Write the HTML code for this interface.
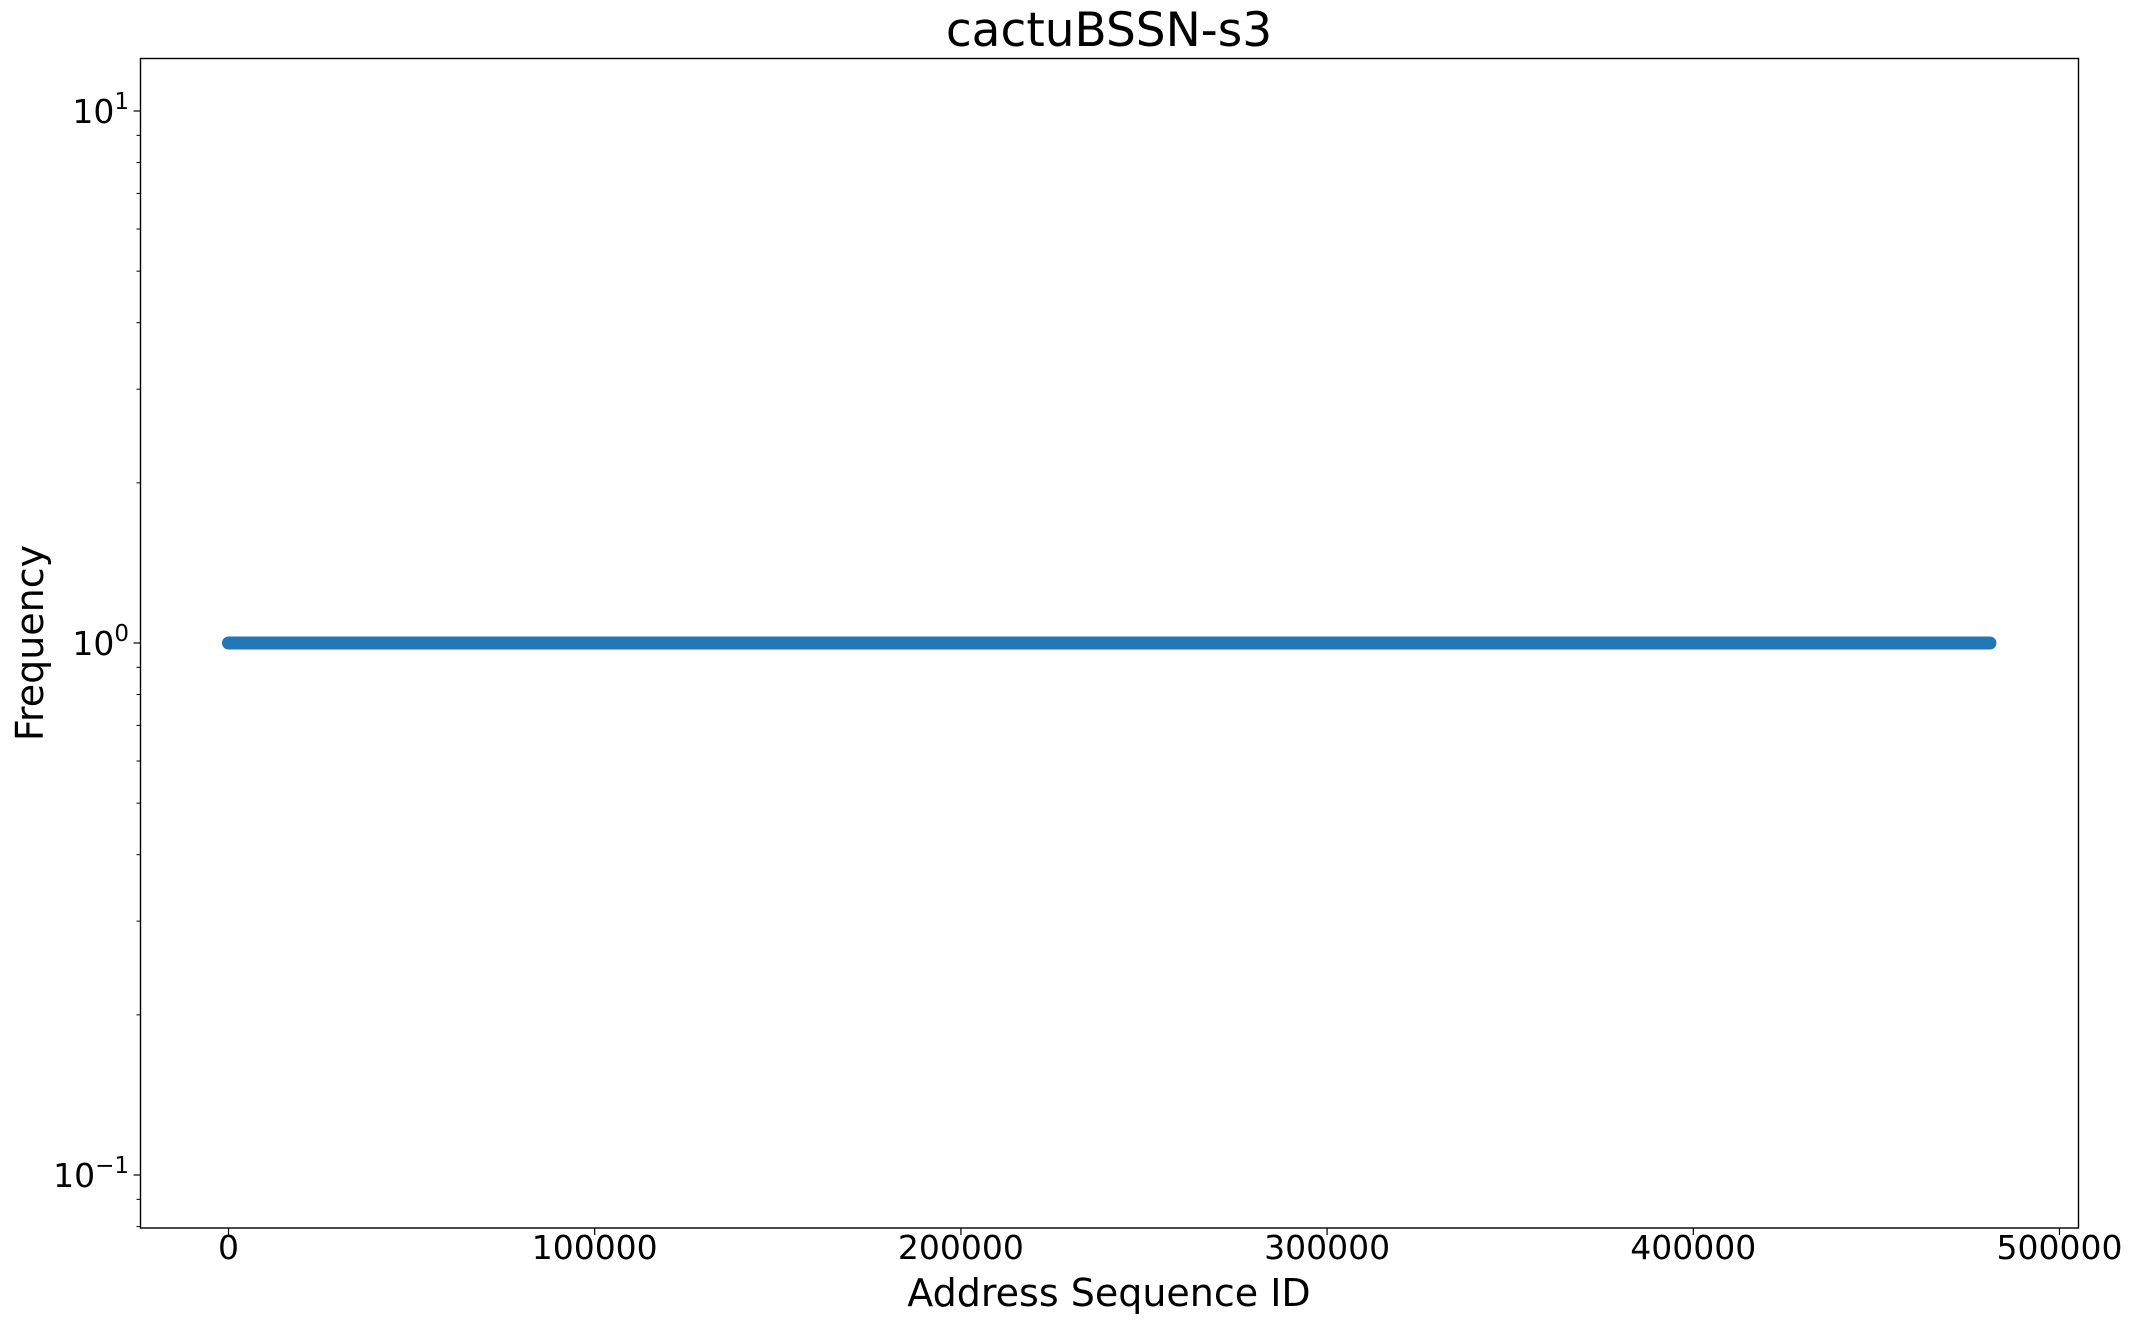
<!DOCTYPE html>
<html><head><meta charset="utf-8"><style>
html,body{margin:0;padding:0;background:#fff;}
svg{display:block;font-family:"DejaVu Sans","Liberation Sans",sans-serif;}
</style></head><body>
<svg id="chart" width="2130" height="1324" viewBox="0 0 2130 1324">
<rect x="0" y="0" width="2130" height="1324" fill="#fff"/>
<text x="1109" y="46" font-size="47" text-anchor="middle" fill="#000">cactuBSSN-s3</text>
<g id="series"></g>
<g id="axes"></g>
<rect x="140.5" y="58.5" width="1938" height="1169.5" fill="none" stroke="#000" stroke-width="1.4"/>
<text x="1109" y="1306" font-size="38" text-anchor="middle" fill="#000">Address Sequence ID</text>
<text x="0" y="0" font-size="38" text-anchor="middle" fill="#000" transform="translate(43,643) rotate(-90)">Frequency</text>
</svg>
<script>
const xTicks = [0, 100000, 200000, 300000, 400000, 500000];
const xTickLabels = ["0", "100000", "200000", "300000", "400000", "500000"];
const yTickExps = [-1, 0, 1];
const yTickLabels = ["−1", "0", "1"];
const seriesX = [0, 481000];
const seriesY = [1, 1];

const NS = "http://www.w3.org/2000/svg";
const X0 = 228.5, XS = 366.2 / 100000;
const Y0 = 643, YS = 532;
function xs(v){ return X0 + v * XS; }
function ys(v){ return Y0 - Math.log10(v) * YS; }
function mk(tag, attrs, parent){
  const e = document.createElementNS(NS, tag);
  for (const k in attrs) e.setAttribute(k, attrs[k]);
  parent.appendChild(e);
  return e;
}
const axes = document.getElementById('axes');
const series = document.getElementById('series');

const pts = seriesX.map((x,i)=>xs(x)+','+ys(seriesY[i])).join(' ');
const line = mk('polyline', {points: pts, fill:'none', stroke:'#1f77b4', 'stroke-width':13, 'stroke-linecap':'round'}, series);



xTicks.forEach((t,i)=>{
  const x = xs(t);
  const tk = mk('line', {x1:x, x2:x, y1:1228, y2:1235, stroke:'#000', 'stroke-width':1.2}, axes);
  
  
  const lb = mk('text', {x:x, y:1259, 'font-size':33, 'text-anchor':'middle', fill:'#000'}, axes);
  lb.textContent = xTickLabels[i];
  
  
});

yTickExps.forEach((e,i)=>{
  const y = ys(Math.pow(10,e));
  const tk = mk('line', {x1:133.5, x2:140.5, y1:y, y2:y, stroke:'#000', 'stroke-width':1.2}, axes);
  
  
  const lb = mk('text', {x:129, y:y+12, 'font-size':33, 'text-anchor':'end', fill:'#000'}, axes);
  
  
  const base = document.createElementNS(NS,'tspan'); base.textContent='10'; lb.appendChild(base);
  const sup = document.createElementNS(NS,'tspan');
  sup.setAttribute('dy', -14); sup.setAttribute('font-size', 23);
  sup.textContent = yTickLabels[i]; lb.appendChild(sup);
});

for (let e=-2; e<=1; e++){
  for (let m=2; m<=9; m++){
    const v = m*Math.pow(10,e);
    const y = ys(v);
    if (y < 58.5 || y > 1228) continue;
    const tk = mk('line', {x1:136.5, x2:140.5, y1:y, y2:y, stroke:'#000', 'stroke-width':1}, axes);
    
    
  }
}
</script>
</body></html>
